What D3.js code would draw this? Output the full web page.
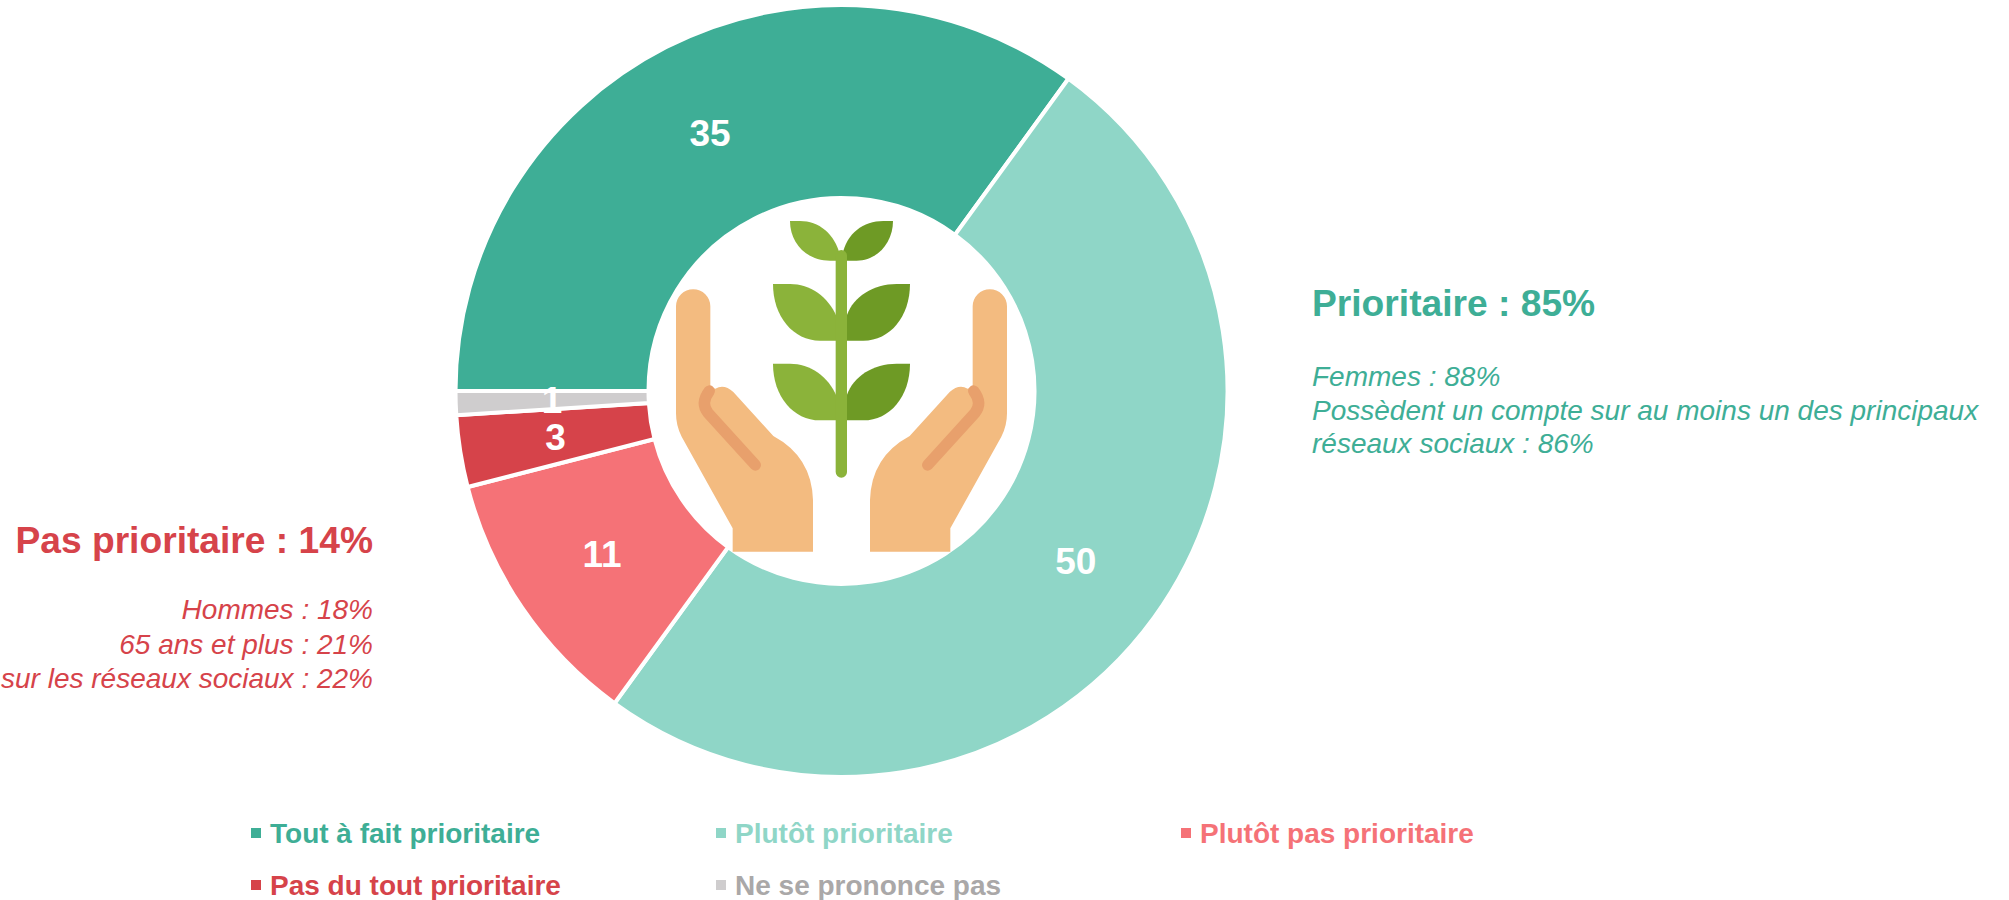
<!DOCTYPE html>
<html lang="fr">
<head>
<meta charset="utf-8">
<title>Prioritaire</title>
<script src="https://cdn.jsdelivr.net/npm/d3@7"></script>
<style>
  html, body { margin: 0; background: #fff; overflow: hidden; }
  text { font-family: "Liberation Sans", Arial, sans-serif; }
</style>
</head>
<body>
<script>
////////////////////////////////////////////////////////////////////////////////
// DATA
////////////////////////////////////////////////////////////////////////////////
const categories = ['Tout à fait prioritaire', 'Plutôt prioritaire', 'Plutôt pas prioritaire', 'Pas du tout prioritaire', 'Ne se prononce pas'];
const values = [35, 50, 11, 3, 1];
const colors = ['#3eae96', '#8fd6c7', '#f57277', '#d6434a', '#cfcdce'];
const legendTextColors = ['#3eae96', '#8fd6c7', '#f57277', '#d6434a', '#aaa8a8'];

const rightTitle = 'Prioritaire : 85%';
const rightLines = ['Femmes : 88%', 'Possèdent un compte sur au moins un des principaux', 'réseaux sociaux : 86%'];
const leftTitle = 'Pas prioritaire : 14%';
const leftLines = ['Hommes : 18%', '65 ans et plus : 21%', 'sur les réseaux sociaux : 22%'];

////////////////////////////////////////////////////////////////////////////////
// SETUP
////////////////////////////////////////////////////////////////////////////////
const width = 2009;
const height = 900;
const cx = 841.5;
const cy = 391;
const outerRadius = 386;
const innerRadius = 193;

const svg = d3.select('body').append('svg')
  .attr('width', width)
  .attr('height', height);

////////////////////////////////////////////////////////////////////////////////
// DONUT
////////////////////////////////////////////////////////////////////////////////
const pie = d3.pie()
  .sort(null)
  .startAngle(-Math.PI / 2)
  .endAngle(Math.PI * 1.5);

const arc = d3.arc()
  .innerRadius(innerRadius)
  .outerRadius(outerRadius);

const donut = svg.append('g')
  .attr('transform', `translate(${cx}, ${cy})`);

const slices = pie(values);

donut.selectAll('path')
  .data(slices)
  .enter().append('path')
  .attr('d', arc)
  .attr('fill', (d, i) => colors[i])
  .attr('stroke', '#fff')
  .attr('stroke-width', 4);

donut.selectAll('text')
  .data(slices)
  .enter().append('text')
  .attr('x', d => arc.centroid(d)[0])
  .attr('y', d => arc.centroid(d)[1])
  .attr('dy', '0.36em')
  .attr('text-anchor', 'middle')
  .attr('font-size', 37)
  .attr('font-weight', 700)
  .attr('fill', '#fff')
  .text(d => d.data);

////////////////////////////////////////////////////////////////////////////////
// ICON, coordinates are in a 3x space measured from a crop at (640, 190)
////////////////////////////////////////////////////////////////////////////////
const icon = svg.append('g')
  .attr('transform', 'translate(640, 190) scale(0.33333)');

const handPath = 'M108 349 A51.5 51.5 0 0 1 211 349 V592 L226 596 Q252 580 280 606 L400 738 Q515 800 519 930 V1085 H278 V1015 L125 740 Q108 708 108 670 Z';
const creasePath = 'M346 825 L205 670 Q180 640 208 603';
const darkLeafTop = 'M759 93 H730 C670 93 618 130 606 200 L610 212 H650 C710 212 759 160 759 93 Z';
const lightLeafTop = 'M450 93 H480 C540 93 590 135 604 212 H570 C500 212 450 160 450 93 Z';
const lightLeaf = 'M399 282 H450 C510 282 565 320 590 380 L604 452 H540 C460 452 399 380 399 282 Z';
const darkLeaf = 'M810 282 H770 C700 282 640 320 621 375 V452 H670 C750 452 810 380 810 282 Z';

[0, 1].forEach(mirrored => {
  const hand = icon.append('g')
    .attr('transform', mirrored ? 'translate(1209, 0) scale(-1, 1)' : null);
  hand.append('path').attr('d', handPath).attr('fill', '#f3bb80');
  hand.append('path').attr('d', creasePath)
    .attr('fill', 'none')
    .attr('stroke', '#e8a06c')
    .attr('stroke-width', 34)
    .attr('stroke-linecap', 'round');
});

icon.append('path').attr('d', lightLeafTop).attr('fill', '#8bb33a');
icon.append('path').attr('d', darkLeafTop).attr('fill', '#6e9a25');
[0, 239].forEach(dy => {
  icon.append('path').attr('d', lightLeaf).attr('fill', '#8bb33a').attr('transform', `translate(0, ${dy})`);
  icon.append('path').attr('d', darkLeaf).attr('fill', '#6e9a25').attr('transform', `translate(0, ${dy})`);
});

icon.append('line')
  .attr('x1', 604).attr('x2', 604)
  .attr('y1', 197).attr('y2', 846)
  .attr('stroke', '#8bb33a')
  .attr('stroke-width', 34)
  .attr('stroke-linecap', 'round');

////////////////////////////////////////////////////////////////////////////////
// SIDE NOTES
////////////////////////////////////////////////////////////////////////////////
function note(x, titleY, firstLineY, lineGap, anchor, color, title, lines) {
  const g = svg.append('g')
    .attr('text-anchor', anchor)
    .attr('fill', color);

  g.append('text')
    .attr('x', x)
    .attr('y', titleY)
    .attr('font-size', 37.2)
    .attr('font-weight', 700)
    .text(title);

  g.selectAll('text.line')
    .data(lines)
    .enter().append('text')
    .classed('line', true)
    .attr('x', x)
    .attr('y', (d, i) => firstLineY + i * lineGap)
    .attr('font-size', 28)
    .attr('font-style', 'italic')
    .text(d => d);
}

note(1312, 316, 386, 33.5, 'start', '#3eae96', rightTitle, rightLines);
note(373, 553, 619, 34.5, 'end', '#d6434a', leftTitle, leftLines);

////////////////////////////////////////////////////////////////////////////////
// LEGEND
////////////////////////////////////////////////////////////////////////////////
const legendX = d3.scaleOrdinal().domain([0, 1, 2]).range([251, 716, 1181]);
const legendY = d3.scaleOrdinal().domain([0, 1]).range([833, 885]);

const legend = svg.selectAll('g.legend')
  .data(categories)
  .enter().append('g')
  .classed('legend', true)
  .attr('transform', (d, i) => `translate(${legendX(i % 3)}, ${legendY(Math.floor(i / 3))})`);

legend.append('rect')
  .attr('y', -5)
  .attr('width', 10)
  .attr('height', 10)
  .attr('fill', (d, i) => colors[i]);

legend.append('text')
  .attr('x', 19)
  .attr('dy', '0.35em')
  .attr('font-size', 28)
  .attr('font-weight', 700)
  .attr('fill', (d, i) => legendTextColors[i])
  .text(d => d);
</script>
</body>
</html>
